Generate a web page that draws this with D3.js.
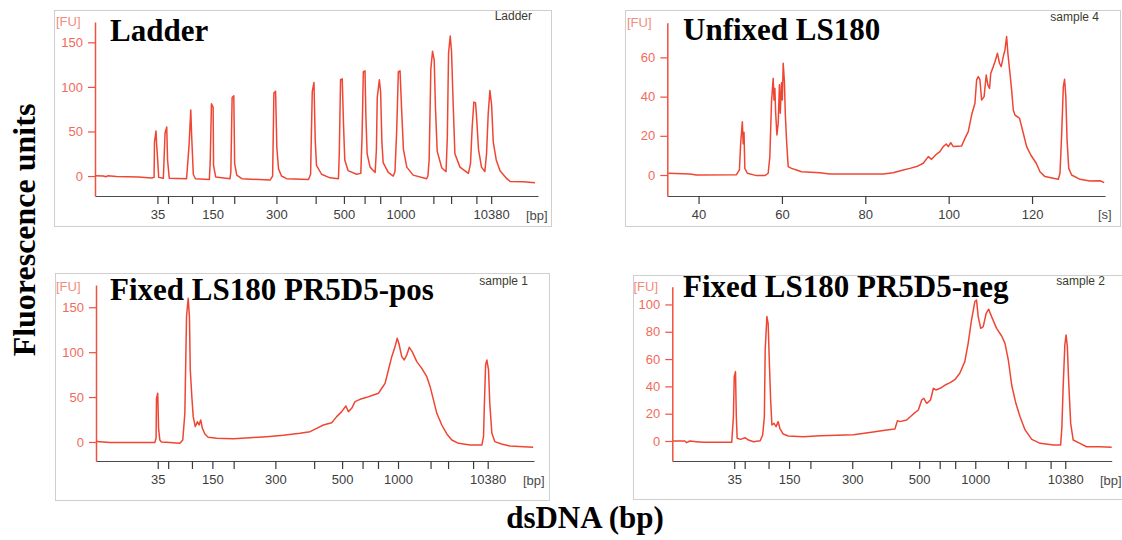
<!DOCTYPE html>
<html><head><meta charset="utf-8">
<script src="https://cdn.jsdelivr.net/npm/d3@7"></script>
<style>
html,body{margin:0;padding:0;background:#fff;}
svg{display:block;}
</style></head><body>
<svg id="chart" width="1122" height="540"></svg>
<script>
// ---------- DATA ----------
const timeDomain = [32.5, 137.5];                 // migration time [s]
const ladderBp    = [35, 50, 100, 150, 200, 300, 400, 500, 600, 700, 1000, 2000, 3000, 7000, 10380];
const ladderTimes = [47.3, 49.8, 55.5, 60.4, 65.5, 75.5, 84.8, 91.5, 96.4, 100.1, 104.9, 112.7, 116.9, 122.9, 126.4];
const labelledBp  = [35, 150, 300, 500, 1000, 10380];
const secondsTicks = [40, 60, 80, 100, 120];
const fuTicksLadder = [0, 50, 100, 150];
const fuTicksSample4 = [0, 20, 40, 60];
const fuTicksSample1 = [0, 50, 100, 150];
const fuTicksSample2 = [0, 20, 40, 60, 80, 100];
const panelTitles = ["Ladder", "Unfixed LS180", "Fixed LS180 PR5D5-pos", "Fixed LS180 PR5D5-neg"];
const sampleNames = ["Ladder", "sample 4", "sample 1", "sample 2"];
const yAxisTitle = "Fluorescence units";
const xAxisTitle = "dsDNA (bp)";

// [time s, FU]
const ladderTrace = [[32.5,0.4],[34.5,0],[35.1,-0.8],[35.5,0.2],[37.6,-0.4],[42.8,-1.1],[45.9,-2.2],[46.5,-1.5],[46.6,38],[46.96,50.4],[47.1,36],[47.3,22],[47.6,-1.5],[48.7,-2.5],[49.1,48],[49.5,55],[49.7,18],[50.1,-2.5],[54.2,-3],[54.8,35],[55.2,74],[55.4,46],[55.8,2],[56.3,-3],[59.6,-4],[59.8,15],[60.1,81],[60.5,77],[60.6,12],[61.1,-1],[64.5,-3],[64.7,5],[65.0,88],[65.4,90],[65.6,14],[66.1,1],[67.3,-3],[74,-4.5],[74.6,0],[74.9,93],[75.3,95],[75.6,32],[76.0,8],[76.7,0],[77.9,-3],[83.1,-4],[83.6,2],[83.8,50],[84.0,95],[84.4,105],[84.7,40],[85.0,12],[86.2,2],[88.2,-2],[90.2,-3],[90.4,25],[90.7,108],[91.1,109],[91.4,58],[91.7,18],[92.5,6],[94.5,2],[95.5,3],[95.8,45],[96.1,117],[96.5,118],[96.7,68],[97.0,25],[97.7,10],[98.9,4],[99.2,30],[99.4,88],[99.9,108],[100.2,94],[100.5,38],[100.8,15],[102.0,4],[103.2,0],[103.6,5],[104.0,50],[104.4,117],[104.8,118],[105.2,72],[105.6,30],[106.4,10],[107.9,1],[111.1,-3],[111.4,0],[111.7,18],[112.1,120],[112.5,140],[112.9,130],[113.2,76],[113.6,28],[114.7,9],[115.7,5],[116.0,42],[116.3,138],[116.7,157],[117.0,140],[117.4,80],[117.8,25],[119.0,10],[121.0,3],[121.5,14],[121.9,55],[122.3,83],[122.7,82],[122.96,65],[123.4,30],[124.1,10],[124.9,5],[125.3,25],[125.7,70],[126.1,96],[126.5,80],[126.9,38],[127.6,18],[128.5,6],[130.1,-3],[130.9,-6],[134.0,-6.5],[136.8,-7.5]];

const sample4Trace = [[32.75,0.9],[37.95,0.5],[39.5,0],[49.1,0.2],[49.8,2.6],[50.1,16.2],[50.5,27.2],[50.7,16],[50.9,21.8],[51.1,3.4],[51.7,0.9],[53.9,-0.3],[55.9,-0.3],[56.7,0.9],[57.1,9.4],[57.5,37.4],[57.9,49.3],[58.1,38.3],[58.3,44.2],[58.5,31.5],[58.8,20.4],[59.1,26.4],[59.4,46],[59.6,31.5],[59.9,47.1],[60.1,38.3],[60.3,57],[60.6,47.6],[60.8,31.5],[61.1,17.9],[61.5,4.3],[62.3,3.4],[63.5,2.6],[64.7,1.7],[69.1,1.2],[71.5,0.5],[77.1,0.5],[84.3,0.5],[86.7,1.2],[89.1,2.6],[90.7,3.4],[92.3,4.3],[93.9,6],[95.1,9.4],[95.9,8],[97.1,10.7],[97.9,11.9],[98.7,14.5],[99.4,15.8],[99.9,14.5],[100.5,16.5],[101.1,14.5],[103.1,14.8],[103.9,18.7],[104.7,22.1],[105.5,30.6],[106.3,36.6],[106.7,48.5],[107.1,50.2],[107.5,48.5],[107.9,38.3],[108.5,40],[109.0,51],[109.4,46],[109.8,44.2],[110.1,51.9],[110.7,55.3],[111.1,57.8],[111.7,62.1],[112.2,57],[112.6,55.3],[113.1,60.4],[113.5,63.8],[113.9,70.6],[114.2,62.1],[114.7,51.9],[115.1,43.4],[115.5,33.2],[115.9,30.6],[117.0,28.9],[117.9,21.3],[118.7,14.5],[119.7,10.2],[121.0,6],[121.9,1.7],[123.1,-0.8],[125.1,-1.7],[126.3,-2.2],[126.7,0.9],[127.1,20.4],[127.5,45.1],[127.8,48.8],[128.1,40],[128.4,17.9],[128.8,3.4],[129.5,0],[131.5,-2.2],[133.9,-3.1],[136.3,-2.9],[137.3,-3.9]];

const sample1Trace = [[32.7,0.4],[35.9,-0.7],[46.6,-0.7],[46.9,4.1],[47.0,48.6],[47.3,54.2],[47.5,15.2],[47.8,2.2],[48.2,0],[50.2,-0.7],[52.6,-1.5],[53.3,2.2],[53.8,31.9],[54.2,139.6],[54.6,160],[54.9,139.6],[55.1,80.2],[55.5,48.6],[55.8,28.2],[56.3,17.1],[56.8,22.6],[57.2,18.9],[57.6,24.5],[58.0,15.2],[58.6,8.9],[59.4,5.2],[61.4,4.1],[65.4,3.7],[69.4,4.8],[73.4,5.9],[77.4,7.4],[81.4,9.6],[83.8,11.5],[85.4,15.2],[87.0,18.9],[89.0,21.5],[90.2,28.2],[91.4,33.8],[92.4,40.1],[93.0,33.8],[93.8,37.5],[94.6,44.9],[95.8,47.5],[97.4,49.7],[99.0,52.3],[100.2,54.2],[101.0,59.8],[101.8,65.3],[102.6,80.2],[103.4,95],[104.2,106.2],[104.7,115.4],[105.1,109.9],[105.8,95],[106.4,91.3],[107.0,96.9],[107.6,105.4],[108.3,100.6],[109.4,89.5],[110.6,82],[111.8,72.7],[112.6,61.6],[113.4,46.8],[114.2,31.9],[115.4,18.9],[116.6,8.9],[117.8,2.2],[119.4,-1.5],[122.2,-3.4],[125.0,-3.4],[125.4,5.9],[125.6,41.2],[125.9,85.7],[126.2,91.3],[126.6,80.2],[126.9,43],[127.4,9.6],[128.1,0.4],[129.7,-2.2],[131.7,-4.5],[135.0,-5.2],[137.3,-6]];

const sample2Trace = [[32.7,0],[35.5,0],[35.9,-1.2],[36.7,0],[38.3,-0.5],[39.9,-1],[46.7,-1],[47.1,17.8],[47.3,47.1],[47.6,50.8],[47.8,17.8],[48.0,2],[48.8,1.2],[49.9,2.4],[50.7,0.7],[51.9,-0.5],[53.5,0.2],[54.1,4.4],[54.5,17.8],[54.7,66.7],[55.1,91.1],[55.4,86.2],[55.7,56.9],[56.0,30],[56.3,11.7],[56.8,12.9],[57.3,10.5],[57.8,14.2],[58.2,9.3],[59.0,5.1],[60.2,3.7],[63.8,3.2],[67.8,3.9],[75.8,4.6],[80.5,6.6],[83.7,8.1],[85.7,8.8],[86.3,14.9],[86.9,14.2],[88.5,15.4],[90.1,19.8],[91.3,22.7],[92.1,30],[92.6,31.3],[93.3,27.6],[94.2,30],[94.9,38.6],[95.5,37.4],[96.5,38.6],[97.7,41],[98.9,42.7],[100.1,45.2],[101.2,49.6],[102.4,58.1],[103.2,71.5],[104.0,88.6],[104.8,102.1],[105.2,103.3],[105.6,91.1],[106.2,82.5],[106.8,83.8],[107.5,93.5],[108.1,96.5],[108.8,91.1],[110.0,82.5],[111.2,76.9],[112.0,71.5],[112.8,59.3],[113.6,41],[114.6,27.6],[115.6,17.8],[116.8,8.1],[118.4,1.2],[120.4,-1.7],[123.6,-2.9],[125.3,-2.9],[125.6,10.5],[125.9,39.8],[126.3,70.3],[126.6,77.7],[126.9,69.1],[127.2,44.7],[127.7,12.9],[128.3,0.7],[129.9,-1.7],[131.5,-4.2],[134.7,-4.2],[137.5,-4.6]];

// ---------- LAYOUT ----------
const panels = [
  {trace: ladderTrace, yTicks: fuTicksLadder, yDom: [-22.4, 172.8], bp: true,
   frame: [54, 10, 497, 216], x0: 95, x1: 538, yTop: 22, yBot: 196,
   title: [110, 41], fu: [56, 26], name: [532, 20], unit: [526, 220], unitText: "[bp]"},
  {trace: sample4Trace, yTicks: fuTicksSample4, yDom: [-10.7, 77.7], bp: false,
   frame: [625, 10, 495, 216], x0: 667.3, x1: 1105, yTop: 22.7, yBot: 196,
   title: [683, 40], fu: [627, 27], name: [1099, 21], unit: [1098, 219], unitText: "[s]"},
  {trace: sample1Trace, yTicks: fuTicksSample1, yDom: [-21.2, 174.8], bp: true,
   frame: [55, 273, 494, 227], x0: 96, x1: 534, yTop: 285, yBot: 461,
   title: [110, 300], fu: [56, 291], name: [528, 285], unit: [523, 485], unitText: "[bp]"},
  {trace: sample2Trace, yTicks: fuTicksSample2, yDom: [-14.65, 113], bp: true,
   frame: [633, 275, 495, 224], x0: 672.3, x1: 1111.7, yTop: 286.7, yBot: 461,
   title: [683, 297], fu: [633.5, 291], name: [1105, 285], unit: [1100, 485], unitText: "[bp]"}
];

const RED = "#ef4634", AXISRED = "#f0503f", TICKLBL = "#f26a5a", FUCOL = "#f38c7e";
const SANS = "'Liberation Sans', Arial, sans-serif";
const SERIF = "'Liberation Serif', 'Times New Roman', serif";

const svg = d3.select("#chart");

panels.forEach((p, i) => {
  const g = svg.append("g");
  g.append("rect").attr("x", p.frame[0] + 0.5).attr("y", p.frame[1] + 0.5)
    .attr("width", p.frame[2]).attr("height", p.frame[3])
    .attr("fill", "none").attr("stroke", "#cfcfcf").attr("stroke-width", 1);

  const x = d3.scaleLinear().domain(timeDomain).range([p.x0, p.x1]);
  const y = d3.scaleLinear().domain(p.yDom).range([p.yBot, p.yTop]);

  // x axis
  const xa = d3.axisBottom(x).tickSize(8).tickSizeOuter(0).tickPadding(6);
  if (p.bp) {
    xa.tickValues(ladderTimes).tickFormat((d, k) => labelledBp.includes(ladderBp[k]) ? ladderBp[k] : "");
  } else {
    xa.tickValues(secondsTicks).tickFormat(d3.format("d"));
  }
  const gx = g.append("g").attr("transform", `translate(0,${p.yBot})`).call(xa);
  gx.select(".domain").attr("stroke", "#4a4a4a").attr("stroke-width", 1.2);
  gx.selectAll(".tick line").attr("stroke", "#3a3a3a").attr("stroke-width", 1.2);
  gx.selectAll(".tick text").attr("fill", "#3d3d3d").attr("font-family", SANS).attr("font-size", 13);

  // y axis
  const ya = d3.axisLeft(y).tickValues(p.yTicks).tickSize(7).tickSizeOuter(0).tickPadding(5);
  const gy = g.append("g").attr("transform", `translate(${p.x0},0)`).call(ya);
  gy.select(".domain").attr("stroke", AXISRED).attr("stroke-width", 1.5);
  gy.selectAll(".tick line").attr("stroke", AXISRED).attr("stroke-width", 1.2);
  gy.selectAll(".tick text").attr("fill", TICKLBL).attr("font-family", SANS).attr("font-size", 13);

  // trace
  g.append("path").datum(p.trace)
    .attr("d", d3.line().x(d => x(d[0])).y(d => y(d[1])))
    .attr("fill", "none").attr("stroke", RED).attr("stroke-width", 1.5)
    .attr("stroke-linejoin", "round");

  // labels
  g.append("text").attr("x", p.fu[0]).attr("y", p.fu[1]).text("[FU]")
    .attr("fill", FUCOL).attr("font-family", SANS).attr("font-size", 13);
  g.append("text").attr("x", p.unit[0]).attr("y", p.unit[1]).text(p.unitText)
    .attr("fill", "#4a4a4a").attr("font-family", SANS).attr("font-size", 13);
  g.append("text").attr("x", p.name[0]).attr("y", p.name[1]).text(sampleNames[i])
    .attr("text-anchor", "end").attr("fill", "#3b3b2e").attr("font-family", SANS).attr("font-size", 12);
  g.append("text").attr("x", p.title[0]).attr("y", p.title[1]).text(panelTitles[i])
    .attr("fill", "#000").attr("font-family", SERIF).attr("font-weight", "bold").attr("font-size", 31);
});

svg.append("text").attr("transform", "translate(35,230) rotate(-90)")
  .attr("text-anchor", "middle").text(yAxisTitle)
  .attr("font-family", SERIF).attr("font-weight", "bold").attr("font-size", 32).attr("fill", "#000");
svg.append("text").attr("x", 585).attr("y", 528).attr("text-anchor", "middle").text(xAxisTitle)
  .attr("font-family", SERIF).attr("font-weight", "bold").attr("font-size", 31).attr("fill", "#000");
</script>
</body></html>
